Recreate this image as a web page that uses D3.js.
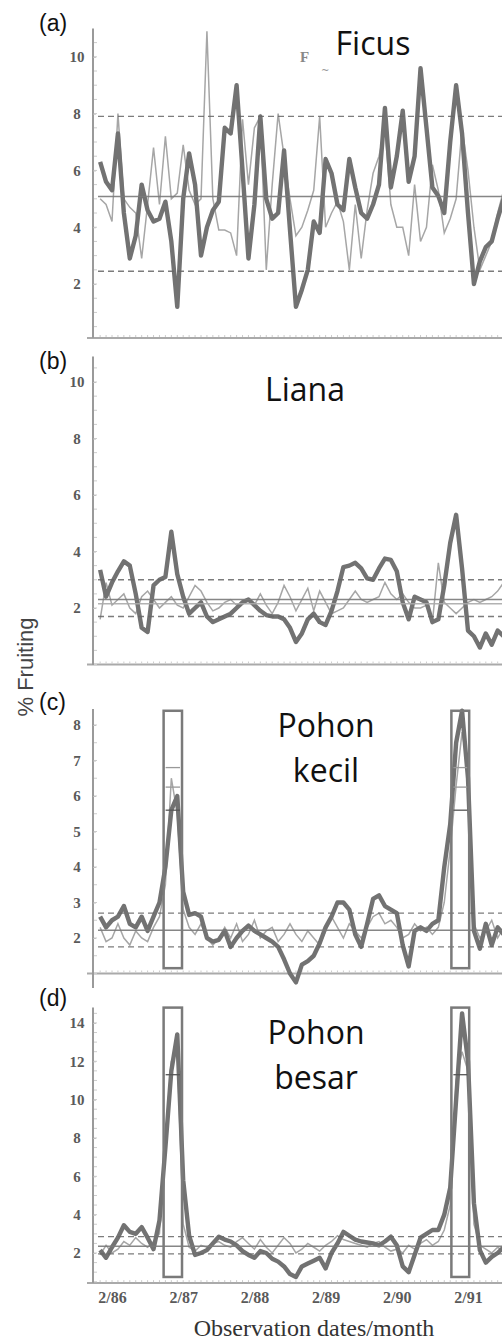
<!DOCTYPE html>
<html>
<head>
<meta charset="utf-8">
<title>% Fruiting</title>
<style>
    html, body {
        margin: 0px;
        padding: 0px;
        background-color: #ffffff;
    }

    #main svg {
        display: block;
    }

    .yAxis text, .xAxis text {
        font-family: "Liberation Serif", "DejaVu Serif", serif;
        font-weight: bold;
        fill: #5a5a5a;
    }

    .yAxis .domain {
        stroke: #9a9a9a;
        stroke-width: 2;
    }

    .yAxis line, .xAxis line {
        stroke: #bbb;
    }

    .xAxis .domain {
        stroke: none;
    }
</style>
<script src="https://cdn.jsdelivr.net/npm/d3@7"></script>
</head>
<body>
<div id="main"></div>

<script>
    // month index, 0 = Feb 1986
    var months = d3.range(-2, 67);
    var xTickMonths = [0, 12, 24, 36, 48, 60];
    var xTickLabels = ["2/86", "2/87", "2/88", "2/89", "2/90", "2/91"];

    var ficusThick = [6.3, 5.6, 5.3, 7.3, 4.5, 2.9, 3.7, 5.5, 4.6, 4.2,
                      4.3, 4.9, 3.5, 1.2, 5.0, 6.6, 5.5, 3.0, 4.0, 4.6,
                      4.9, 7.5, 7.3, 9.0, 6.0, 2.9, 4.8, 7.9, 5.0, 4.3,
                      4.5, 6.7, 3.9, 1.2, 1.8, 2.5, 4.2, 3.8, 6.4, 5.9,
                      4.8, 4.6, 6.4, 5.4, 4.5, 4.3, 4.8, 5.5, 8.2, 5.4,
                      6.5, 8.1, 5.6, 6.5, 9.6, 7.5, 5.4, 5.1, 4.5, 7.0,
                      9.0, 7.3, 4.5, 2.0, 2.8, 3.3, 3.5, 4.3, 5.0];
    var ficusThin = [5.0, 4.8, 4.2, 8.0, 5.0, 4.7, 4.5, 2.9, 4.8, 6.8,
                     4.8, 7.2, 5.0, 5.2, 6.9, 5.3, 4.8, 5.0, 10.9, 5.0,
                     3.9, 3.9, 3.8, 3.0, 7.8, 5.5, 7.5, 7.9, 2.5, 5.5,
                     8.0, 6.5, 5.0, 3.7, 4.0, 4.6, 5.3, 7.9, 4.0, 4.5,
                     4.9, 4.2, 2.5, 4.8, 2.9, 4.6, 5.9, 6.5, 7.5, 4.8,
                     4.0, 4.0, 3.0, 5.5, 3.5, 4.0, 6.2, 5.3, 3.8, 4.3,
                     5.0, 7.5, 6.0, 4.0, 2.5, 3.0, 3.5, 4.5, 5.3];

    var lianaThick = [3.35, 2.4, 2.9, 3.3, 3.65, 3.5, 2.5, 1.3, 1.15, 2.8,
                      3.0, 3.1, 4.7, 3.2, 2.4, 1.8, 2.0, 2.2, 1.7, 1.5,
                      1.6, 1.7, 1.8, 2.0, 2.2, 2.3, 2.1, 1.9, 1.75, 1.7,
                      1.7, 1.6, 1.3, 0.8, 1.1, 1.6, 1.8, 1.5, 1.4, 1.9,
                      2.6, 3.45, 3.5, 3.6, 3.4, 3.05, 3.0, 3.4, 3.75, 3.7,
                      3.3, 2.2, 1.6, 2.4, 2.3, 2.2, 1.5, 1.6, 2.8, 4.3,
                      5.3, 3.4, 1.2, 1.0, 0.6, 1.1, 0.7, 1.2, 1.0];
    var lianaThin = [1.6, 2.9, 2.1, 2.3, 2.5, 2.0, 1.8, 2.4, 2.6, 2.3,
                     2.0, 2.2, 2.4, 2.1, 2.0, 2.4, 2.8, 2.6, 2.2, 1.9,
                     2.0, 2.2, 2.3, 2.1, 2.2, 2.3, 2.1, 2.5, 2.1, 1.8,
                     2.2, 2.8, 2.4, 1.9, 2.3, 2.7, 1.9, 2.6, 2.2, 1.8,
                     1.9, 2.0, 2.3, 2.6, 2.3, 2.2, 2.3, 2.4, 2.9, 2.5,
                     2.3, 2.5, 2.2, 2.0, 2.0, 2.1, 1.5, 3.6, 2.2, 2.0,
                     1.8, 2.0, 2.2, 2.3, 2.2, 2.3, 2.4, 2.6, 2.9];

    var kecilThick = [2.6, 2.3, 2.5, 2.6, 2.9, 2.4, 2.3, 2.6, 2.2, 2.6,
                      3.0, 4.0, 5.6, 6.0, 3.3, 2.65, 2.7, 2.6, 2.0, 1.9,
                      1.95, 2.2, 1.75, 2.0, 2.2, 2.35, 2.2, 2.1, 2.0, 1.9,
                      1.75, 1.4, 1.0, 0.75, 1.25, 1.35, 1.5, 1.85, 2.3, 2.6,
                      3.0, 3.0, 2.8, 2.1, 1.75, 2.4, 3.1, 3.2, 2.9, 2.8,
                      2.7, 1.8, 1.2, 2.2, 2.3, 2.2, 2.4, 2.5, 4.0, 5.2,
                      7.5, 8.4, 6.5, 2.2, 1.7, 2.4, 1.8, 2.3, 2.1];
    var kecilThin = [2.3, 1.9, 2.0, 2.4, 2.0, 1.8, 2.2, 2.0, 1.9, 2.3,
                     2.6, 3.5, 6.5, 5.5, 2.8, 2.3, 2.1, 2.4, 2.0, 1.8,
                     2.0, 2.3, 2.0, 2.4, 1.9, 2.1, 2.5, 2.0, 2.2, 2.3,
                     1.9, 2.1, 2.4, 2.1, 1.9, 2.2, 2.0, 1.8, 2.2, 2.6,
                     2.3, 2.0, 2.4, 2.2, 2.0, 2.3, 2.6, 2.7, 2.4, 2.5,
                     2.3, 2.0, 2.1, 2.4, 2.2, 2.3, 2.1, 2.3, 3.0, 4.5,
                     6.3, 7.8, 6.8, 2.4, 2.0, 2.2, 2.5, 2.0, 2.3];

    var besarThick = [2.15, 1.75, 2.3, 2.8, 3.45, 3.1, 3.0, 3.35, 2.8, 2.2,
                      3.7, 7.5, 11.5, 13.4, 5.8, 2.9, 1.9, 2.0, 2.15, 2.5,
                      2.85, 2.7, 2.6, 2.4, 2.1, 1.9, 1.75, 2.1, 2.0, 1.7,
                      1.55, 1.3, 0.9, 0.75, 1.3, 1.45, 1.6, 1.75, 1.2, 2.0,
                      2.5, 3.1, 2.9, 2.7, 2.6, 2.55, 2.5, 2.4, 2.6, 2.85,
                      2.4, 1.3, 1.0, 1.9, 2.8, 3.0, 3.2, 3.2, 4.0, 5.4,
                      10.0, 14.5, 12.0, 4.6, 2.15, 1.5, 1.8, 2.0, 2.3];
    var besarThin = [1.9, 2.4, 2.0, 2.2, 2.6, 2.4, 2.8, 2.5, 2.3, 2.6,
                     3.0, 8.0, 12.0, 12.5, 3.5, 2.3, 2.1, 2.4, 2.3, 2.5,
                     2.6, 2.4, 2.3, 2.6, 2.8, 2.5, 2.2, 2.7, 2.3, 2.0,
                     2.4, 2.8, 2.5, 2.0, 2.2, 2.5, 2.3, 2.1, 2.4, 2.6,
                     2.9, 2.7, 2.6, 2.5, 2.4, 2.3, 2.5, 2.6, 2.3, 2.1,
                     2.2, 2.0, 2.4, 2.2, 2.5, 2.7, 2.4, 2.6, 3.2, 4.5,
                     11.0, 12.5, 11.5, 3.5, 2.4, 2.2, 2.0, 2.3, 2.1];

    var ficusTicks = [2, 4, 6, 8, 10];
    var lianaTicks = [2, 4, 6, 8, 10];
    var kecilTicks = [2, 3, 4, 5, 6, 7, 8];
    var besarTicks = [2, 4, 6, 8, 10, 12, 14];

    var ficusDashed = [7.9, 2.45], ficusSolid = [5.08];
    var lianaDashed = [3.0, 1.7], lianaSolid = [2.3, 2.15];
    var kecilDashed = [2.7, 1.75], kecilSolid = [2.22];
    var besarDashed = [2.85, 1.95], besarSolid = [2.35];

    // mast-fruiting windows (month index)
    var boxMonths = [[8.7, 11.8], [57.2, 60.2]];
    var kecilBoxRange = [1.15, 8.4], kecilBoxMarks = [6.8, 6.25, 5.6];
    var besarBoxRange = [0.75, 14.8], besarBoxMarks = [11.3];

    var width = 502, height = 1342;
    var axisX = 93;

    var x = d3.scaleLinear().domain([0, 60]).range([112, 468]);

    var panels = [
        {label: "(a)", labelY: 31, title: ["Ficus"], titleX: 373, titleY: 55,
         thick: ficusThick, thin: ficusThin, ticks: ficusTicks, dashed: ficusDashed, solid: ficusSolid,
         domain: [0.1, 11], range: [338, 28.4], xAxisV: 0.1, yAxisBottom: 338},
        {label: "(b)", labelY: 369, title: ["Liana"], titleX: 305, titleY: 401,
         thick: lianaThick, thin: lianaThin, ticks: lianaTicks, dashed: lianaDashed, solid: lianaSolid,
         domain: [0, 10.9], range: [664.5, 356.6], xAxisV: 0, yAxisBottom: 665},
        {label: "(c)", labelY: 710, title: ["Pohon", "kecil"], titleX: 326, titleY: 737,
         thick: kecilThick, thin: kecilThin, ticks: kecilTicks, dashed: kecilDashed, solid: kecilSolid,
         domain: [0.6, 8.45], range: [987.7, 709], xAxisV: 1.0, yAxisBottom: 988,
         boxRange: kecilBoxRange, boxMarks: kecilBoxMarks},
        {label: "(d)", labelY: 1006, title: ["Pohon", "besar"], titleX: 316, titleY: 1044,
         thick: besarThick, thin: besarThin, ticks: besarTicks, dashed: besarDashed, solid: besarSolid,
         domain: [0.43, 14.8], range: [1283.1, 1007.6], xAxisV: 0.43, yAxisBottom: 1283,
         boxRange: besarBoxRange, boxMarks: besarBoxMarks, showLabels: true}
    ];

    function drawPanel(svg, p) {
        var y = d3.scaleLinear().domain(p.domain).range(p.range);
        var g = svg.append("g");

        var line = d3.line()
            .x(function(d, i) { return x(months[i]); })
            .y(function(d) { return y(d); });

        // bottom axis line with small monthly ticks
        var yb = y(p.xAxisV);
        g.append("line")
            .attr("x1", axisX - 6).attr("x2", width)
            .attr("y1", yb).attr("y2", yb)
            .attr("stroke", "#aaa").attr("stroke-width", 2);
        g.selectAll(".mtick").data(months).enter().append("line")
            .attr("x1", function(d) { return x(d); })
            .attr("x2", function(d) { return x(d); })
            .attr("y1", yb - 1).attr("y2", yb - 3)
            .attr("stroke", "#ccc");

        // y axis
        var yAxis = g.append("g")
            .attr("class", "yAxis")
            .attr("transform", "translate(" + axisX + ",0)")
            .call(d3.axisLeft(y).tickValues(p.ticks).tickSize(-3).tickSizeOuter(0));
        yAxis.select(".domain").attr("d", "M0," + p.range[1] + "V" + p.yAxisBottom);
        yAxis.selectAll("text")
            .attr("x", -16)
            .attr("text-anchor", "middle")
            .style("font-size", "15px");
        var minor = d3.range(Math.ceil(p.domain[0] * 2) / 2, p.domain[1], 0.5);
        g.selectAll(".ytick").data(minor).enter().append("line")
            .attr("x1", axisX + 1).attr("x2", axisX + 4)
            .attr("y1", function(d) { return y(d); })
            .attr("y2", function(d) { return y(d); })
            .attr("stroke", "#ccc");

        // series
        g.append("path")
            .datum(p.thin)
            .attr("fill", "none")
            .attr("stroke", "#a6a6a6")
            .attr("stroke-width", 1.5)
            .attr("d", line);
        g.append("path")
            .datum(p.thick)
            .attr("fill", "none")
            .attr("stroke", "#727272")
            .attr("stroke-width", 4.4)
            .attr("stroke-linejoin", "round")
            .attr("d", line);

        // mean and limits
        g.selectAll(".dash").data(p.dashed).enter().append("line")
            .attr("x1", axisX + 5).attr("x2", width)
            .attr("y1", function(d) { return y(d); })
            .attr("y2", function(d) { return y(d); })
            .attr("stroke", "#666").attr("stroke-width", 1.3)
            .attr("stroke-dasharray", "6,4").attr("opacity", 0.85);
        g.selectAll(".solid").data(p.solid).enter().append("line")
            .attr("x1", axisX + 5).attr("x2", width)
            .attr("y1", function(d) { return y(d); })
            .attr("y2", function(d) { return y(d); })
            .attr("stroke", function(d, i) { return i ? "#aaa" : "#7a7a7a"; })
            .attr("stroke-width", 1.6).attr("opacity", 0.9);

        // boxes
        if (p.boxRange) {
            boxMonths.forEach(function(b) {
                g.append("rect")
                    .attr("x", x(b[0])).attr("width", x(b[1]) - x(b[0]))
                    .attr("y", y(p.boxRange[1])).attr("height", y(p.boxRange[0]) - y(p.boxRange[1]))
                    .attr("fill", "none")
                    .attr("stroke", "#7a7a7a").attr("stroke-width", 2.5);
                g.selectAll(null).data(p.boxMarks).enter().append("line")
                    .attr("x1", x(b[0]) + 2).attr("x2", x(b[1]) - 2)
                    .attr("y1", function(d) { return y(d); })
                    .attr("y2", function(d) { return y(d); })
                    .attr("stroke", function(d, i) { return i === p.boxMarks.length - 1 ? "#555" : "#999"; })
                    .attr("stroke-width", 1.3);
            });
        }

        // panel label and title
        g.append("text")
            .attr("x", 39).attr("y", p.labelY)
            .style("font-family", "Liberation Sans, Arial, sans-serif")
            .style("font-size", "23px")
            .attr("fill", "#111")
            .text(p.label);
        g.selectAll(".title").data(p.title).enter().append("text")
            .attr("x", p.titleX)
            .attr("y", function(d, i) { return p.titleY + i * 45; })
            .attr("text-anchor", "middle")
            .style("font-family", "Open Sans, sans-serif")
            .style("font-size", "32px")
            .attr("fill", "#111")
            .text(function(d) { return d; });

        if (p.showLabels) {
            var xAxis = g.append("g")
                .attr("class", "xAxis")
                .attr("transform", "translate(0," + yb + ")")
                .call(d3.axisBottom(x).tickValues(xTickMonths)
                    .tickFormat(function(d, i) { return xTickLabels[i]; })
                    .tickSize(0).tickPadding(9));
            xAxis.selectAll("text").style("font-size", "16px");
        }
    }

    function main() {
        var svg = d3.select("#main")
            .append("svg")
            .attr("width", width)
            .attr("height", height);

        panels.forEach(function(p) { drawPanel(svg, p); });

        // stray marks next to the Ficus title
        svg.append("text")
            .attr("x", 300).attr("y", 62)
            .style("font-family", "Liberation Serif, serif")
            .style("font-weight", "bold")
            .style("font-size", "15px")
            .attr("fill", "#888")
            .text("F");
        svg.append("text")
            .attr("x", 321).attr("y", 74)
            .style("font-family", "DejaVu Sans, sans-serif")
            .style("font-size", "10px")
            .attr("fill", "#999")
            .text("~");

        svg.append("text")
            .attr("transform", "translate(33,667) rotate(-90)")
            .attr("text-anchor", "middle")
            .style("font-family", "Liberation Sans, Arial, sans-serif")
            .style("font-size", "22px")
            .attr("fill", "#444")
            .text("% Fruiting");

        svg.append("text")
            .attr("x", 314).attr("y", 1336)
            .attr("text-anchor", "middle")
            .style("font-family", "Liberation Serif, serif")
            .style("font-size", "24px")
            .attr("fill", "#333")
            .text("Observation dates/month");
    }

    main();
</script>
</body>
</html>
